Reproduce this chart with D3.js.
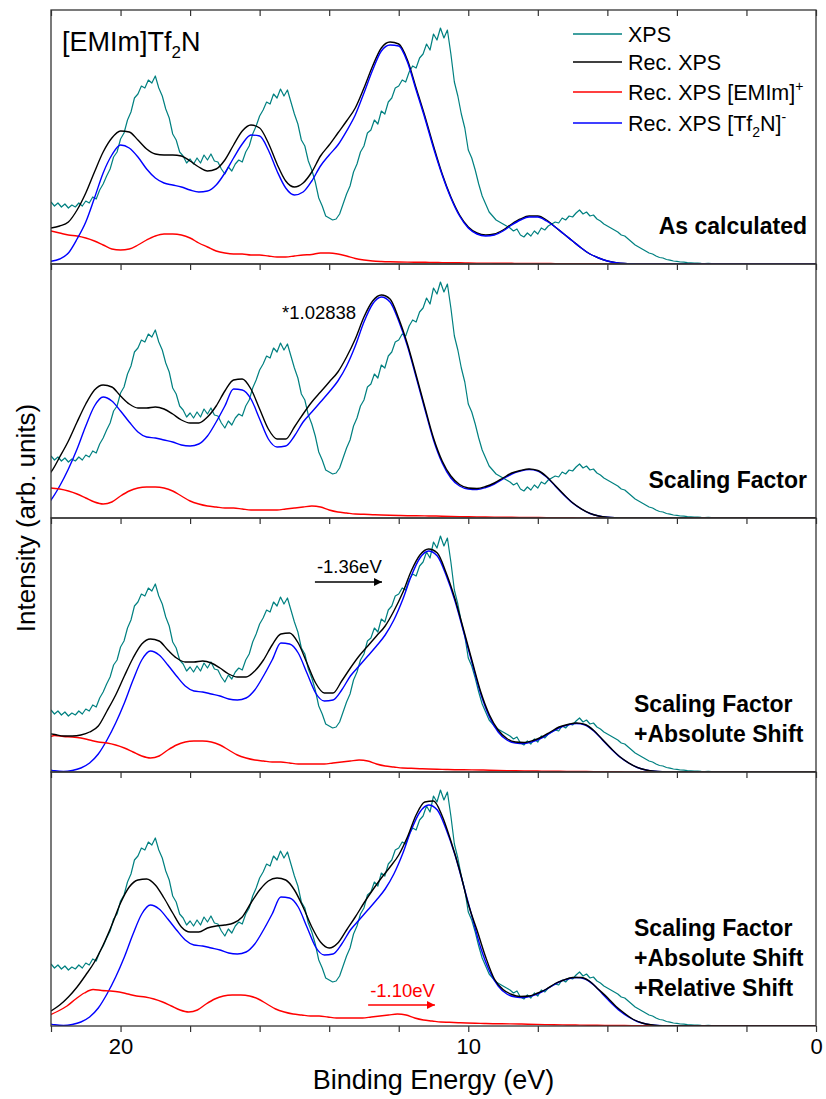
<!DOCTYPE html>
<html>
<head>
<meta charset="utf-8">
<script src="https://cdn.jsdelivr.net/npm/d3@7"></script>
<style>
  body { margin: 0; background: #fff; }
  text { font-family: "Liberation Sans", Arial, sans-serif; }
</style>
</head>
<body>
<svg id="chart" width="826" height="1099"></svg>
<script>
// ---- data (intensity in arb. units) ----

// measured XPS spectrum, same in every panel
const xpsEnergy = [22.0,21.9,21.8,21.7,21.6,21.5,21.4,21.3,21.2,21.1,
  21.0,20.9,20.8,20.7,20.6,20.5,20.4,20.3,20.2,20.1,
  20.0,19.9,19.8,19.7,19.6,19.5,19.4,19.3,19.2,19.1,
  19.0,18.9,18.8,18.7,18.6,18.5,18.4,18.3,18.2,18.1,
  18.0,17.9,17.8,17.7,17.6,17.5,17.4,17.3,17.2,17.1,
  17.0,16.9,16.8,16.7,16.6,16.5,16.4,16.3,16.2,16.1,
  16.0,15.9,15.8,15.7,15.6,15.5,15.4,15.3,15.2,15.1,
  15.0,14.9,14.8,14.7,14.6,14.5,14.4,14.3,14.2,14.1,
  14.0,13.9,13.8,13.7,13.6,13.5,13.4,13.3,13.2,13.1,
  13.0,12.9,12.8,12.7,12.6,12.5,12.4,12.3,12.2,12.1,
  12.0,11.9,11.8,11.7,11.6,11.5,11.4,11.3,11.2,11.1,
  11.0,10.9,10.8,10.7,10.6,10.5,10.4,10.3,10.2,10.1,
  10.0,9.9,9.8,9.7,9.6,9.5,9.4,9.3,9.2,9.1,
  9.0,8.9,8.8,8.7,8.6,8.5,8.4,8.3,8.2,8.1,
  8.0,7.9,7.8,7.7,7.6,7.5,7.4,7.3,7.2,7.1,
  7.0,6.9,6.8,6.7,6.6,6.5,6.4,6.3,6.2,6.1,
  6.0,5.9,5.8,5.7,5.6,5.5,5.4,5.3,5.2,5.1,
  5.0,4.9,4.8,4.7,4.6,4.5,4.4,4.3,4.2,4.1,
  4.0,3.9,3.8,3.7,3.6,3.5,3.4,3.3,3.2,3.1,
  3.0,2.9,2.8,2.7,2.6,2.5,2.4,2.3,2.2,2.1,
  2.0];
const xpsValues = [62,58,61,57,60,56,59,57,61,58,
  63,61,67,65,74,80,88,95,107,112,
  125,131,144,152,166,170,178,176,184,181,
  188,176,168,155,146,130,124,112,108,101,
  105,100,106,101,109,104,110,103,102,95,
  90,97,93,100,104,102,112,118,130,138,
  148,154,162,160,170,166,175,168,174,162,
  150,140,124,118,103,94,82,66,58,48,
  46,44,45,50,60,70,78,92,100,112,
  118,131,134,144,140,153,150,162,166,176,
  178,184,182,192,198,196,206,210,220,214,
  230,224,236,226,234,210,182,168,150,136,
  114,106,94,80,68,60,52,48,44,42,
  40,38,36,33,35,29,27,31,28,33,
  30,36,34,38,40,42,41,46,44,48,
  47,51,54,50,52,48,49,45,43,40,
  38,36,34,32,29,28,25,22,19,17,
  15,13,11,10,8,6.5,6,4.5,3.8,3,
  2.6,2,1.8,1.3,1.2,0.9,1,0.6,0.5,0.6,
  0.3,0.3,0.1,0.2,0,0.2,0,0.1,0,0,
  0];

// "As calculated" reconstructions
const calcEnergy = [22,21.75,21.5,21.25, 21,20.75,20.5,20.25, 20,19.75,19.5,19.25, 19,18.75,18.5,18.25,
  18,17.75,17.5,17.25, 17,16.75,16.5,16.25, 16,15.75,15.5,15.25, 15,14.75,14.5,14.25,
  14,13.75,13.5,13.25, 13,12.75,12.5,12.25, 12,11.75,11.5,11.25, 11,10.75,10.5,10.25,
  10,9.75,9.5,9.25, 9,8.75,8.5,8.25, 8,7.75,7.5,7.25, 7,6.75,6.5,6.25,
  6,5.75,5.5,5.25, 5,4.75,4.5,4.25, 4,3,2,0];
const calcTotal = [36,38,42,54, 71,92,112,126, 133,132,124,115, 110,109,109,108,
  103,97,93,95, 104,119,133,139, 136,121,100,83, 77,81,92,108,
  119,131,143,156, 176,198,216,222, 220,204,176,148, 118,90,67,49,
  37,31,29,30, 34,40,45,48, 48,44,37,30, 23,16,10,6,
  3,1.4,0.5,0.2, 0,0,0,0, 0,0,0,0];
const calcCation = [33,31,29,28, 26,23,19,15, 14,15,19,24, 28,30,30,29,
  26,21,17,13, 11,10,10,9, 9,8,7,7, 8,9,9.5,11,
  11,10,8,5.5, 4,3,2.5,2.2, 2,1.9,1.8,1.7, 1.5,1.4,1.3,1.2,
  1,0.9,0.9,0.8, 0.8,0.7,0.6,0.6, 0.5,0.5,0.4,0.4, 0.3,0.3,0.2,0.2,
  0.1,0.1,0,0, 0,0,0,0, 0,0,0,0];
const calcAnion = [2.7,5,11,25, 42,66,91,109, 119,116,107,95, 86,81,79,77,
  74,72,73,79, 91,106,120,129, 128,114,93,76, 69,72,83,98,
  109,119,133,149, 171,194,213,219, 218,202,174,146, 116,89,66,48,
  36,30,28,29, 33,39,44,47, 47,43,37,30, 23,16,10,6,
  3,1.3,0.5,0.2, 0,0,0,0, 0,0,0,0];

// reconstructions after the energy scaling factor (panel 2, base for the shifted panels)
const scaledEnergy = [24.5,24.25,24,23.75, 23.5,23.25,23,22.75, 22.5,22.25,22,21.75, 21.5,21.25,21,20.75,
  20.5,20.25,20,19.75, 19.5,19.25,19,18.75, 18.5,18.25,18,17.75, 17.5,17.25,17,16.75,
  16.5,16.25,16,15.75, 15.5,15.25,15,14.75, 14.5,14.25,14,13.75, 13.5,13.25,13,12.75,
  12.5,12.25,12,11.75, 11.5,11.25,11,10.75, 10.5,10.25,10,9.75, 9.5,9.25,9,8.75,
  8.5,8.25,8,7.75, 7.5,7.25,7,6.75, 6.5,6.25,6,5.75, 5.5,5.25,5,4.75,
  4.5,4.25,4, 3,2,0];
const scaledTotal = [null,null,null,null, 39,37.5,36,36, 37,40,46,61, 77,96,114,128,
  133,131,122,114, 110,110,111,109, 104,98,95,95, 101,112,127,138,
  139,129,109,89, 79,79,91,104, 116,126,136,146, 161,179,201,217,
  223,219,199.5,174, 143,111,80,57, 42,33.5,30,29.5, 31.5,35,40,45,
  47.5,49,47.5,41.5, 32.5,23.5,15.2,9.2, 4.6,2,0.7,0.2, 0,0,0,0,
  0,0,0, 0,0,0];
const scaledCation = [11,15,20,27, 33,36.5,35.5,35, 34,32,30,29, 27,24,20,16,
  14,16,22,27, 30,31,31,30, 27,22,17,14, 12,11,10,10,
  9,8,8,8, 8,9,10,11, 12,11,8,6, 5,4,3.7,3.3,
  3,2.7,2.5,2.3, 2.2,2.1,2,1.8, 1.6,1.4,1.2,1.1, 1,0.9,0.8,0.7,
  0.6,0.55,0.5,0.4, 0.3,0.25,0.2,0.15, 0.1,0.05,0,0, 0,0,0,0,
  0,0,0, 0,0,0];
const scaledAnion = [null,null,null,null, 3,1.2,0.5,1.5, 4,9,18,32, 49,69,92,112,
  121,117,107,96, 86,81,80,78, 76,73,72,74, 82,96,112,129,
  128,119,99,79, 71,72,82,96, 106,116,126,137, 152,172,196,214,
  221,216,197,172, 141,109,78,55, 40,32,29,28.5, 30.5,34,39,44,
  47,48.5,47,41, 32,23,15,9, 4.5,2,0.7,0.2, 0,0,0,0,
  0,0,0, 0,0,0];

// total reconstruction after the relative cation shift (panel 4), on calcEnergy
const relTotal = [15,21,29,39, 51,64,81,101, 123,139,146,147, 141,128,113,99,
  94,94,98,100, 101,103,109,123, 136,145,148,146, 136,119,99,84,
  78,83,96,109, 123,136,148,159, 171,189,211,224, 225,210,185,156,
  122,96,69,47, 36.5,31.5,29.5,30, 33,37,42.5,46, 48.5,48.5,44.5,36.5,
  28.5,19.5,12.5,6.5, 3,1.2,0.4,0.1, 0,0,0,0];

// shifts (eV) written on the figure: absolute -1.36 eV, cation relative -1.10 eV
const anionShift = [0, 0, 1.36, 1.36];
const cationShift = [0, 0, 1.36, 2.46];
const panelLabels = [['As calculated'], ['Scaling Factor'],
  ['Scaling Factor', '+Absolute Shift'],
  ['Scaling Factor', '+Absolute Shift', '+Relative Shift']];
const tickVals = [22, 20, 18, 16, 14, 12, 10, 8, 6, 4, 2, 0];
const tickLabels = [20, 10, 0];

// ---- layout ----
const margin = {top: 10, left: 51, right: 10};
const panelH = 254;
const plotW = 826 - margin.left - margin.right;
const colors = {xps: '#008080', total: '#000000', cation: '#ff0000', anion: '#0000ff'};

const svg = d3.select('#chart');
const x = d3.scaleLinear().domain([22, 0]).range([margin.left, margin.left + plotW]);

function toPoints(energy, values, shift) {
  return energy.map((e, i) => ({e: e - shift, v: values[i]}));
}

panelLabels.forEach((labels, p) => {
  const top = margin.top + p * panelH;
  const y = d3.scaleLinear().domain([0, panelH]).range([top + panelH, top]);
  const g = svg.append('g');

  svg.append('clipPath').attr('id', 'clip' + p)
    .append('rect').attr('x', margin.left).attr('y', top).attr('width', plotW).attr('height', panelH);

  const line = d3.line()
    .defined(d => d.v != null)
    .x(d => x(d.e)).y(d => y(d.v));

  let series;
  if (p === 0) {
    series = [
      ['xps', toPoints(xpsEnergy, xpsValues, 0)],
      ['total', toPoints(calcEnergy, calcTotal, 0)],
      ['cation', toPoints(calcEnergy, calcCation, 0)],
      ['anion', toPoints(calcEnergy, calcAnion, 0)]
    ];
  } else {
    const total = p === 3 ? toPoints(calcEnergy, relTotal, 0)
                          : toPoints(scaledEnergy, scaledTotal, anionShift[p]);
    series = [
      ['xps', toPoints(xpsEnergy, xpsValues, 0)],
      ['anion', toPoints(scaledEnergy, scaledAnion, anionShift[p])],
      ['cation', toPoints(scaledEnergy, scaledCation, cationShift[p])],
      ['total', total]
    ];
  }

  const curves = g.append('g').attr('clip-path', `url(#clip${p})`);
  series.forEach(([key, pts]) => {
    curves.append('path')
      .datum(pts)
      .attr('fill', 'none')
      .attr('stroke', colors[key])
      .attr('stroke-width', key === 'xps' ? 1.2 : 1.4)
      .attr('stroke-linejoin', 'round')
      .attr('d', line.curve(key === 'xps' ? d3.curveLinear : d3.curveMonotoneX)(pts));
  });

  // inward ticks along the top edge of each panel
  const topAxis = g.append('g')
    .attr('transform', `translate(0,${top})`)
    .call(d3.axisBottom(x).tickValues(tickVals).tickSize(6).tickFormat(''));
  topAxis.select('.domain').remove();
  topAxis.selectAll('line').attr('stroke', '#333').attr('stroke-width', 1.2);

  // frame
  g.append('rect')
    .attr('x', margin.left).attr('y', top)
    .attr('width', plotW).attr('height', panelH)
    .attr('fill', 'none').attr('stroke', '#333').attr('stroke-width', 1.3);

  // panel label
  const multi = labels.length > 1;
  const lineGap = 30;
  const baseY = top + panelH - 30 - (labels.length - 1) * lineGap;
  labels.forEach((t, k) => {
    g.append('text')
      .attr('x', multi ? 634 : 807)
      .attr('y', baseY + k * lineGap)
      .attr('text-anchor', multi ? 'start' : 'end')
      .attr('font-size', 23).attr('font-weight', 'bold')
      .text(t);
  });
});

// bottom axis with labels
const bottom = margin.top + 4 * panelH;
const xAxis = svg.append('g')
  .attr('transform', `translate(0,${bottom})`)
  .call(d3.axisBottom(x).tickValues(tickVals).tickSize(6).tickPadding(6)
    .tickFormat(d => tickLabels.includes(d) ? d : ''));
xAxis.select('.domain').remove();
xAxis.selectAll('line').attr('stroke', '#333').attr('stroke-width', 1.2);
xAxis.selectAll('text').attr('font-size', 22).attr('fill', '#000')
  .attr('font-family', '"Liberation Sans", Arial, sans-serif');

svg.append('text')
  .attr('x', margin.left + plotW / 2).attr('y', 1089)
  .attr('text-anchor', 'middle').attr('font-size', 27)
  .text('Binding Energy (eV)');

svg.append('text')
  .attr('transform', `translate(35,${margin.top + 2 * panelH}) rotate(-90)`)
  .attr('text-anchor', 'middle').attr('font-size', 26)
  .text('Intensity (arb. units)');

// compound name
const title = svg.append('text').attr('x', 62).attr('y', 51).attr('font-size', 27);
title.append('tspan').text('[EMIm]Tf');
title.append('tspan').attr('font-size', 17).attr('dy', 7).text('2');
title.append('tspan').attr('dy', -7).text('N');

// legend
const legend = [
  {key: 'xps', parts: [['XPS']]},
  {key: 'total', parts: [['Rec. XPS']]},
  {key: 'cation', parts: [['Rec. XPS [EMIm]'], ['+', 'sup']]},
  {key: 'anion', parts: [['Rec. XPS [Tf'], ['2', 'sub'], ['N]'], ['-', 'sup']]}
];
const legendBase = [42, 70, 100, 131];
legend.forEach((item, i) => {
  const ly = legendBase[i];
  svg.append('line')
    .attr('x1', 573).attr('x2', 622).attr('y1', ly - 8).attr('y2', ly - 8)
    .attr('stroke', colors[item.key]).attr('stroke-width', 1.4);
  const t = svg.append('text').attr('x', 628).attr('y', ly).attr('font-size', 21.5);
  let shiftNow = 0;
  item.parts.forEach(([s, kind]) => {
    const target = kind === 'sup' ? -9 : kind === 'sub' ? 6 : 0;
    t.append('tspan')
      .attr('dy', target - shiftNow)
      .attr('font-size', kind ? 14 : 21.5)
      .text(s);
    shiftNow = target;
  });
});

// annotations
svg.append('text').attr('x', 282).attr('y', 319).attr('font-size', 18.5).text('*1.02838');

const defs = svg.append('defs');
[['arrowBlack', '#000'], ['arrowRed', '#ff0000']].forEach(([id, c]) => {
  defs.append('marker').attr('id', id)
    .attr('viewBox', '0 0 10 10').attr('refX', 10).attr('refY', 5)
    .attr('markerWidth', 5).attr('markerHeight', 5).attr('orient', 'auto')
    .attr('markerUnits', 'strokeWidth')
    .append('path').attr('d', 'M0,0 L10,5 L0,10 Z').attr('fill', c);
});

const arrows = [
  {text: '-1.36eV', color: '#000', marker: 'arrowBlack', from: 14.41, to: 12.48, ty: 573, ay: 582},
  {text: '-1.10eV', color: '#ff0000', marker: 'arrowRed', from: 12.88, to: 10.96, ty: 997, ay: 1005}
];
arrows.forEach(a => {
  svg.append('text').attr('x', x(a.from) + 2).attr('y', a.ty)
    .attr('font-size', 18.5).attr('fill', a.color).text(a.text);
  svg.append('line')
    .attr('x1', x(a.from)).attr('x2', x(a.to)).attr('y1', a.ay).attr('y2', a.ay)
    .attr('stroke', a.color).attr('stroke-width', 1.6)
    .attr('marker-end', `url(#${a.marker})`);
});
</script>
</body>
</html>
